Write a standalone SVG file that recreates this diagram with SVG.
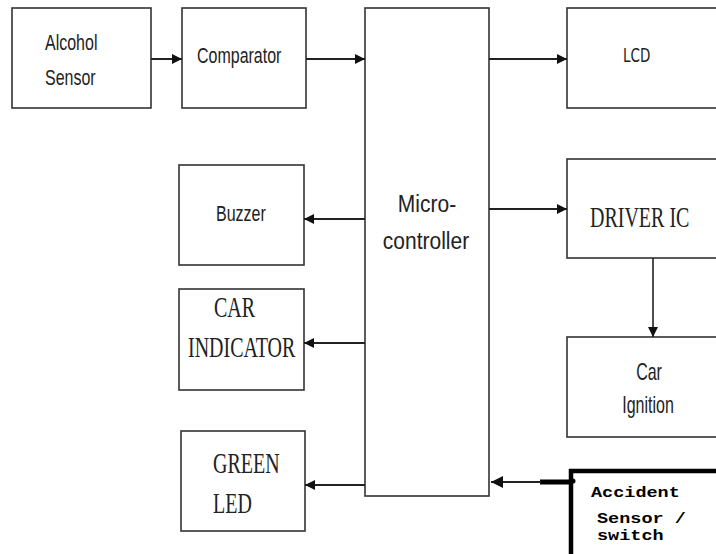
<svg xmlns="http://www.w3.org/2000/svg" width="716" height="554" viewBox="0 0 716 554">
<style>
.box{fill:#fff;stroke:#333;stroke-width:1.6}
.sans{font-family:"Liberation Sans",Arial,sans-serif;font-size:16px;fill:#222}
.serif{font-family:"Liberation Serif","Times New Roman",serif;font-size:20px;fill:#222}
.mono{font-family:"Liberation Mono","Courier New",monospace;font-size:18.5px;font-weight:bold;fill:#000}
.ln{stroke:#222;stroke-width:2;fill:none}
</style>
<defs>
<marker id="ah" viewBox="0 0 10 10" refX="10" refY="5" markerWidth="10" markerHeight="10" markerUnits="userSpaceOnUse" orient="auto">
<path d="M0,0 L10,5 L0,10 Z" fill="#111"/>
</marker>
<marker id="ahb" viewBox="0 0 12 12" refX="12" refY="6" markerWidth="12" markerHeight="12" markerUnits="userSpaceOnUse" orient="auto">
<path d="M0,0 L12,6 L0,12 Z" fill="#111"/>
</marker>
</defs>
<rect width="716" height="554" fill="#fff"/>
<g id="alcohol-sensor">
<rect class="box" x="12" y="8" width="139" height="100"/>
<text class="sans" transform="translate(45,50) scale(1,1.4)">Alcohol</text>
<text class="sans" transform="translate(45,85) scale(1,1.4)">Sensor</text>
</g>
<g id="comparator">
<rect class="box" x="182" y="8" width="124" height="100"/>
<text class="sans" transform="translate(197,63) scale(1,1.4)">Comparator</text>
</g>
<g id="microcontroller">
<rect class="box" x="365" y="8" width="124" height="488"/>
<text class="sans" text-anchor="middle" font-size="21" transform="translate(427,212) scale(1,1.15)" style="font-size:21px">Micro-</text>
<text class="sans" text-anchor="middle" transform="translate(426,249) scale(1,1.15)" style="font-size:21px">controller</text>
</g>
<g id="lcd">
<rect class="box" x="567" y="8" width="155" height="100"/>
<text class="sans" transform="translate(623,62) scale(1,1.3)" style="font-family:'DejaVu Sans Condensed','DejaVu Sans',sans-serif;font-size:15px">LCD</text>
</g>
<g id="buzzer">
<rect class="box" x="179" y="165" width="125" height="100"/>
<text class="sans" transform="translate(216,221) scale(1,1.4)">Buzzer</text>
</g>
<g id="car-indicator">
<rect class="box" x="179" y="289" width="125" height="101"/>
<text class="serif" transform="translate(214,317) scale(1,1.5)">CAR</text>
<text class="serif" transform="translate(188,357) scale(1,1.5)">INDICATOR</text>
</g>
<g id="green-led">
<rect class="box" x="181" y="431" width="124" height="100"/>
<text class="serif" transform="translate(213,473) scale(1,1.5)">GREEN</text>
<text class="serif" transform="translate(213,513) scale(1,1.5)">LED</text>
</g>
<g id="driver-ic">
<rect class="box" x="567" y="159" width="155" height="99"/>
<text class="serif" transform="translate(590,227) scale(1,1.5)">DRIVER IC</text>
</g>
<g id="car-ignition">
<rect class="box" x="567" y="337" width="155" height="100"/>
<text class="sans" text-anchor="middle" transform="translate(649,380) scale(1,1.45)">Car</text>
<text class="sans" text-anchor="middle" transform="translate(648,413) scale(1,1.45)">Ignition</text>
</g>
<g id="accident-sensor">
<rect x="571" y="471" width="150" height="86" fill="#fff" stroke="#000" stroke-width="4.5"/>
<text class="mono" transform="translate(591,497) scale(1,0.8)">Accident</text>
<text class="mono" transform="translate(597,523) scale(1,0.8)">Sensor /</text>
<text class="mono" transform="translate(597,540) scale(1,0.8)">switch</text>
</g>
<g id="connectors">
<line class="ln" x1="151" y1="59" x2="182" y2="59" marker-end="url(#ah)"/>
<line class="ln" x1="306" y1="59" x2="365" y2="59" marker-end="url(#ah)"/>
<line class="ln" x1="489" y1="59" x2="567" y2="59" marker-end="url(#ah)"/>
<line class="ln" x1="489" y1="209" x2="567" y2="209" marker-end="url(#ah)"/>
<line class="ln" x1="653" y1="258" x2="653" y2="337" marker-end="url(#ah)" style="stroke-width:1.6"/>
<line class="ln" x1="365" y1="219" x2="304" y2="219" marker-end="url(#ah)"/>
<line class="ln" x1="365" y1="343" x2="304" y2="343" marker-end="url(#ah)"/>
<line class="ln" x1="365" y1="485" x2="305" y2="485" marker-end="url(#ah)"/>
<line x1="571" y1="482" x2="540" y2="482" stroke="#000" stroke-width="5"/>
<line class="ln" x1="541" y1="482" x2="491" y2="482" marker-end="url(#ahb)"/>
<circle cx="573" cy="481" r="2.5" fill="#000"/>
</g>
</svg>
